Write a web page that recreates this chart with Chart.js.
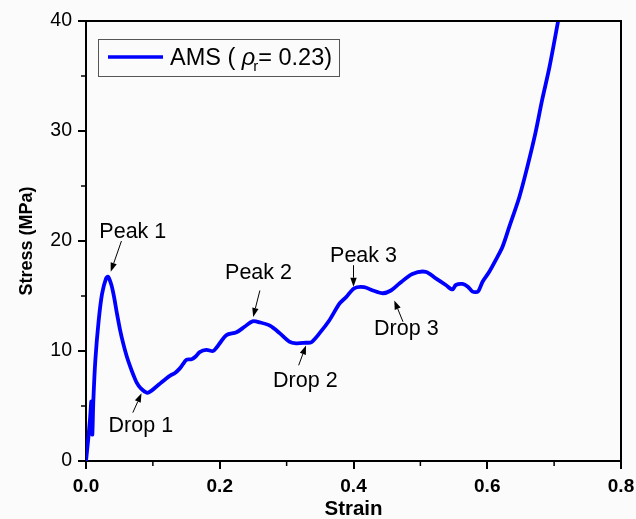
<!DOCTYPE html>
<html>
<head>
<meta charset="utf-8">
<script src="https://cdn.jsdelivr.net/npm/chart.js@4.4.0/dist/chart.umd.min.js"></script>
<style>
  html, body { margin: 0; padding: 0; background: #fbfbfb; }
  #wrap { width: 636px; height: 519px; position: relative; }
</style>
</head>
<body>
<div id="wrap"><canvas id="curve"></canvas></div>
<script>
// stress-strain curve of the AMS sample
const strainVals = [0, 0.003, 0.006, 0.008, 0.0088, 0.0095, 0.011, 0.014, 0.019, 0.024, 0.030, 0.033,
  0.038, 0.042, 0.046, 0.051, 0.056, 0.061, 0.066, 0.071, 0.076, 0.082, 0.0915, 0.098, 0.105, 0.112,
  0.120, 0.127, 0.133, 0.140, 0.145, 0.150, 0.158, 0.164, 0.170, 0.180, 0.190, 0.195, 0.200, 0.210,
  0.225, 0.237, 0.249, 0.260, 0.275, 0.290, 0.304, 0.314, 0.329, 0.337, 0.349, 0.364, 0.379, 0.389,
  0.401, 0.416, 0.429, 0.444, 0.456, 0.469, 0.488, 0.508, 0.523, 0.538, 0.548, 0.553, 0.563, 0.571,
  0.578, 0.586, 0.593, 0.603, 0.613, 0.623, 0.633, 0.648, 0.660, 0.672, 0.682, 0.693, 0.706];
const stressVals = [0, 1.8, 3.8, 5.4, 2.6, 2.4, 5.5, 9.2, 12.8, 15.2, 16.6, 16.75,
  16.0, 14.9, 13.5, 11.9, 10.6, 9.5, 8.6, 7.8, 7.1, 6.6, 6.2, 6.4, 6.75, 7.1,
  7.5, 7.8, 8.0, 8.4, 8.8, 9.2, 9.25, 9.5, 9.9, 10.1, 10.0, 10.3, 10.7, 11.45,
  11.7, 12.2, 12.7, 12.6, 12.3, 11.6, 10.85, 10.7, 10.75, 10.8, 11.6, 12.8, 14.3, 14.9,
  15.7, 15.8, 15.5, 15.25, 15.5, 16.15, 17.0, 17.2, 16.6, 16.0, 15.6, 16.0, 16.1, 15.85,
  15.4, 15.4, 16.3, 17.2, 18.3, 19.5, 21.3, 24.0, 26.75, 29.8, 32.8, 35.8, 40.0];

const xTicks = [0, 0.2, 0.4, 0.6, 0.8];
const yTicks = [0, 10, 20, 30, 40];

// legend pieces: name, density symbol, subscript, value
const legendParts = ['AMS ( ', 'ρ', 'r', '= 0.23)'];

// labelled peaks and drops: text centre, arrow tail, arrow head (data units)
const notes = [
  { text: 'Peak 1', tx: 0.070, ty: 20.8, x0: 0.053, y0: 20.0, x1: 0.037, y1: 17.2 },
  { text: 'Drop 1', tx: 0.082, ty: 3.2,  x0: 0.070, y0: 4.4,  x1: 0.083, y1: 6.15 },
  { text: 'Peak 2', tx: 0.258, ty: 17.1, x0: 0.260, y0: 15.5, x1: 0.250, y1: 13.1 },
  { text: 'Drop 2', tx: 0.328, ty: 7.3,  x0: 0.318, y0: 8.7,  x1: 0.329, y1: 10.5 },
  { text: 'Peak 3', tx: 0.415, ty: 18.6, x0: 0.400, y0: 17.8, x1: 0.400, y1: 15.85 },
  { text: 'Drop 3', tx: 0.479, ty: 12.0, x0: 0.474, y0: 12.66, x1: 0.461, y1: 14.6 }
];

const FONT = '"Liberation Sans", Arial, sans-serif';
const points = strainVals.map((s, i) => ({ x: s, y: stressVals[i] }));

// frame, minor ticks, legend box and annotations
const decorations = {
  id: 'decorations',
  afterDraw(chart) {
    const { ctx, chartArea: a, scales: { x, y } } = chart;
    ctx.save();
    ctx.strokeStyle = '#000';
    ctx.lineWidth = 2;
    ctx.beginPath();
    ctx.moveTo(a.left, a.top);
    ctx.lineTo(a.right, a.top);
    ctx.lineTo(a.right, a.bottom);
    ctx.stroke();

    // minor ticks halfway between majors
    ctx.lineWidth = 1.5;
    ctx.beginPath();
    for (let i = 0; i < xTicks.length - 1; i++) {
      const px = x.getPixelForValue((xTicks[i] + xTicks[i + 1]) / 2);
      ctx.moveTo(px, a.bottom);
      ctx.lineTo(px, a.bottom + 5);
    }
    for (let i = 0; i < yTicks.length - 1; i++) {
      const py = y.getPixelForValue((yTicks[i] + yTicks[i + 1]) / 2);
      ctx.moveTo(a.left, py);
      ctx.lineTo(a.left - 5, py);
    }
    ctx.stroke();

    // legend
    const lx = a.left + 12, ly = a.top + 18;
    ctx.lineWidth = 1;
    ctx.strokeStyle = '#555';
    ctx.strokeRect(lx + 0.5, ly + 0.5, 241, 37);
    ctx.strokeStyle = '#0000ff';
    ctx.lineWidth = 3.5;
    ctx.beginPath();
    ctx.moveTo(lx + 10, ly + 18);
    ctx.lineTo(lx + 65, ly + 18);
    ctx.stroke();
    ctx.fillStyle = '#000';
    ctx.textBaseline = 'alphabetic';
    ctx.textAlign = 'left';
    let cx = lx + 72;
    const base = ly + 26;
    ctx.font = '23.5px ' + FONT;
    ctx.fillText(legendParts[0], cx, base);
    cx += ctx.measureText(legendParts[0]).width;
    ctx.font = 'italic 23.5px ' + FONT;
    ctx.fillText(legendParts[1], cx, base);
    cx += ctx.measureText(legendParts[1]).width - 2;
    ctx.font = '15px ' + FONT;
    ctx.fillText(legendParts[2], cx, base + 6);
    cx += ctx.measureText(legendParts[2]).width;
    ctx.font = '23.5px ' + FONT;
    ctx.fillText(legendParts[3], cx, base);

    // peak / drop labels with arrows
    ctx.font = '21.5px ' + FONT;
    ctx.textAlign = 'center';
    ctx.textBaseline = 'middle';
    notes.forEach(n => {
      ctx.fillStyle = '#000';
      ctx.fillText(n.text, x.getPixelForValue(n.tx), y.getPixelForValue(n.ty));
      const x0 = x.getPixelForValue(n.x0), y0 = y.getPixelForValue(n.y0);
      const x1 = x.getPixelForValue(n.x1), y1 = y.getPixelForValue(n.y1);
      const ang = Math.atan2(y1 - y0, x1 - x0);
      const hl = 9, hw = 3.2;
      const bx = x1 - hl * Math.cos(ang), by = y1 - hl * Math.sin(ang);
      ctx.strokeStyle = '#000';
      ctx.lineWidth = 1;
      ctx.beginPath();
      ctx.moveTo(x0, y0);
      ctx.lineTo(bx, by);
      ctx.stroke();
      ctx.beginPath();
      ctx.moveTo(x1, y1);
      ctx.lineTo(bx + hw * Math.sin(ang), by - hw * Math.cos(ang));
      ctx.lineTo(bx - hw * Math.sin(ang), by + hw * Math.cos(ang));
      ctx.closePath();
      ctx.fill();
    });
    ctx.restore();
  }
};

new Chart(document.getElementById('curve'), {
  type: 'scatter',
  data: {
    datasets: [{
      label: 'AMS (ρr= 0.23)',
      data: points,
      showLine: true,
      borderColor: '#0000ff',
      borderWidth: 3.8,
      pointRadius: 0,
      tension: 0.3
    }]
  },
  options: {
    responsive: true,
    maintainAspectRatio: false,
    animation: false,
    layout: { padding: { top: 21, right: 15, left: 0, bottom: 0 } },
    plugins: { legend: { display: false }, tooltip: { enabled: false } },
    scales: {
      x: {
        type: 'linear',
        min: 0, max: 0.8,
        afterBuildTicks: s => { s.ticks = xTicks.map(v => ({ value: v })); },
        afterFit: s => { s.height = 58; s.paddingLeft = 0; s.paddingRight = 0; },
        border: { color: '#000', width: 2 },
        grid: { drawOnChartArea: false, color: '#000', tickLength: 8, lineWidth: 2 },
        ticks: {
          color: '#000',
          padding: 6,
          font: { family: FONT, size: 19, weight: 'bold' },
          callback: v => v.toFixed(1)
        },
        title: {
          display: true, text: 'Strain', color: '#000',
          font: { family: FONT, size: 20.5, weight: 'bold' },
          padding: { top: 0, bottom: -3 }
        }
      },
      y: {
        min: 0, max: 40,
        afterBuildTicks: s => { s.ticks = yTicks.map(v => ({ value: v })); },
        afterFit: s => { s.width = 86; s.paddingTop = 0; s.paddingBottom = 0; },
        border: { color: '#000', width: 2 },
        grid: { drawOnChartArea: false, color: '#000', tickLength: 8, lineWidth: 2 },
        ticks: {
          color: '#000',
          padding: 6,
          font: { family: FONT, size: 19.5 }
        },
        title: {
          display: true, text: 'Stress (MPa)', color: '#000',
          font: { family: FONT, size: 18, weight: 'bold' },
          padding: { top: 16, bottom: 0 }
        }
      }
    }
  },
  plugins: [decorations]
});
</script>
</body>
</html>
